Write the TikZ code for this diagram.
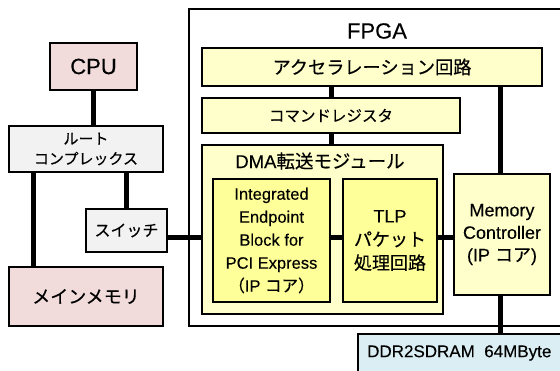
\documentclass[tikz,border=0pt]{standalone}
\usepackage{fontspec}
\setmainfont[FakeBold=0.25]{Liberation Sans}
\newfontfamily\jp[FakeBold=0.4]{Noto Sans CJK JP}
\definecolor{hostpink}{HTML}{F2DCDB}
\definecolor{hostgray}{HTML}{F2F2F2}
\definecolor{fpgayel}{HTML}{FFFFCC}
\definecolor{coreyel}{HTML}{FFFF99}
\definecolor{ramcyan}{HTML}{DAEEF3}
\newcommand{\fsz}[2]{\fontsize{#1}{#2}\selectfont}
\begin{document}
\begin{tikzpicture}[x=1pt,y=-1pt,
  blk/.style={draw=black, line width=1.6pt, inner sep=0pt, outer sep=0pt, align=center},
  host/.style={blk, fill=hostgray},
  hostmem/.style={blk, fill=hostpink},
  fpgablk/.style={blk, fill=fpgayel},
  coreblk/.style={blk, fill=coreyel},
  wire/.style={line width=5pt}]
\useasboundingbox (0,0) rectangle (560,370);
\clip (0,0) rectangle (560,370);

% host side
\node[hostmem, minimum width=87, minimum height=47, font=\fsz{22}{24}] (cpu) at (93.5,66.5) {CPU};
\node[host, minimum width=154, minimum height=46, font=\fsz{15}{20}\jp] (rc) at (86,149) {ルート\\コンプレックス};
\node[host, minimum width=81, minimum height=43, font=\fsz{16}{18}\jp] (sw) at (126.5,230.5) {スイッチ};
\node[hostmem, minimum width=154, minimum height=59, font=\fsz{18}{20}\jp] (mm) at (86,296.5) {メインメモリ};

% FPGA frame
\node[blk, fill=white, anchor=north west, minimum width=390, minimum height=317] (fpga) at (189,9) {};
\node[font=\fsz{22}{24}] (fpgalabel) at (377,31) {FPGA};

\node[fpgablk, minimum width=340, minimum height=38, font=\fsz{18.2}{20}\jp] (acc) at (372,67) {アクセラレーション回路};
\node[fpgablk, minimum width=258, minimum height=35, font=\fsz{15.5}{18}\jp] (cmd) at (331,115.5) {コマンドレジスタ};
\node[fpgablk, minimum width=241, minimum height=169] (dma) at (322.5,229.5) {};
\node[font=\fsz{18.5}{20}] (dmalabel) at (320,161) {DMA{\jp 転送モジュール}};
\node[coreblk, minimum width=117, minimum height=123, font=\fsz{16.5}{23}] (ieb) at (271.5,240.5)
  {Integrated\\Endpoint\\Block for\\PCI Express\\{\jp （}IP {\jp コア）}};
\node[coreblk, minimum width=94, minimum height=123, font=\fsz{18}{23.5}] (tlp) at (390,240.5)
  {TLP\\{\jp パケット}\\{\jp 処理回路}};
\node[fpgablk, minimum width=96, minimum height=121, font=\fsz{18}{22.5}] (mc) at (502,234.5)
  {Memory\\Controller\\(IP {\jp コア})};

% external DRAM
\node[blk, fill=ramcyan, anchor=north west, minimum width=260, minimum height=60] (ddr) at (358,334) {};
\node[anchor=west, font=\fsz{17}{18}, inner sep=0pt] (ddrlabel) at (367,353) {DDR2SDRAM\ \ 64MByte};

% connection references
\coordinate (bus) at (0,237);
\coordinate (rcl) at (33,0);
\coordinate (cmdx) at (331,0);
\coordinate (mcx) at (500,0);

% host wiring
\draw[wire] (cpu.south) -- (cpu.south |- rc.north);
\draw[wire] (rcl |- rc.south) -- (rcl |- mm.north);
\draw[wire] (sw.north |- rc.south) -- (sw.north);
\draw[wire] (sw.east |- bus) -- (dma.west |- bus);

% FPGA wiring
\draw[wire] (cmdx |- acc.south) -- (cmdx |- cmd.north);
\draw[wire] (cmdx |- cmd.south) -- (cmdx |- dma.north);
\draw[wire] (mcx |- acc.south) -- (mcx |- mc.north);
\draw[wire] (mcx |- mc.south) -- (mcx |- ddr.north);
\draw[wire] (ieb.east |- bus) -- (tlp.west |- bus);
\draw[wire] (tlp.east |- bus) -- (mc.west |- bus);
\end{tikzpicture}
\end{document}
